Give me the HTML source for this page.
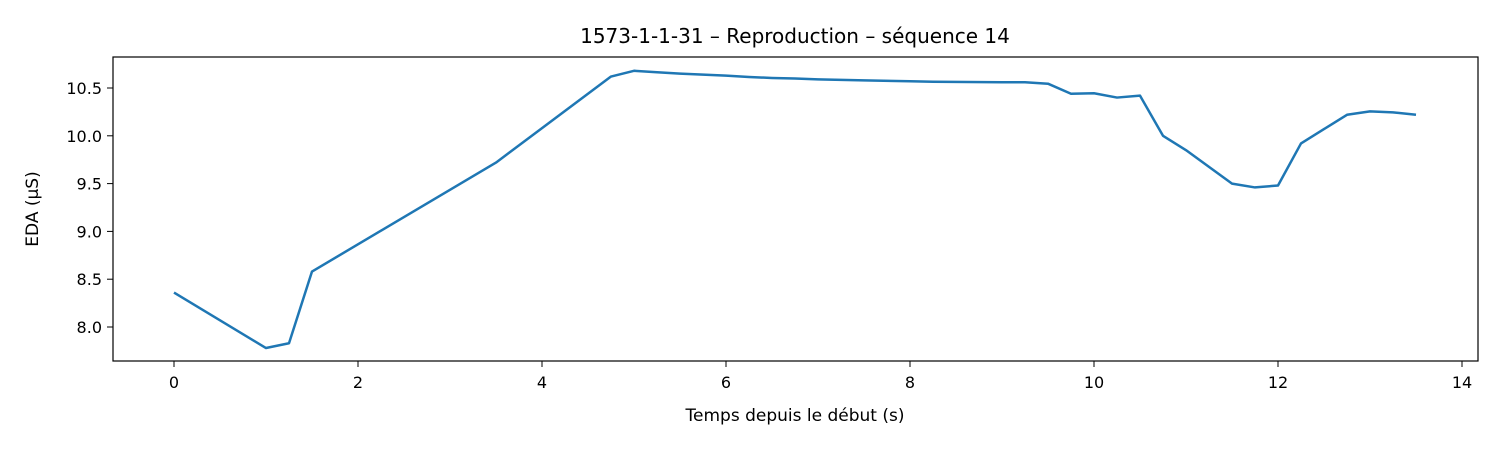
<!DOCTYPE html>
<html><head><meta charset="utf-8"><style>
body{margin:0;background:#fff;font-family:"Liberation Sans","DejaVu Sans",sans-serif;}
svg text{font-family:"DejaVu Sans","Liberation Sans",sans-serif;fill:#000;}
</style></head><body>
<svg id="chart" width="1500" height="450" xmlns="http://www.w3.org/2000/svg">
<rect width="1500" height="450" fill="#fff"/>
<text x="795" y="43" font-size="20" text-anchor="middle">1573-1-1-31 – Reproduction – séquence 14</text>
<g id="ticks"></g>
<path id="line" fill="none" stroke="#1f77b4" stroke-width="2.5" stroke-linejoin="round"/>
<rect x="113" y="57" width="1365" height="304" fill="none" stroke="#000" stroke-width="1.2"/>
<text x="795" y="421" font-size="17" text-anchor="middle">Temps depuis le début (s)</text>
<text transform="translate(38,209) rotate(-90)" font-size="17" text-anchor="middle">EDA (µS)</text>
</svg>
<script>
const times=[0,1,1.25,1.5,3.5,4.75,5,5.25,5.5,5.75,6,6.25,6.5,6.75,7,7.5,8,8.25,9,9.25,9.5,9.75,10,10.25,10.5,10.75,11,11.5,11.75,12,12.25,12.5,12.75,13,13.25,13.5];
const eda=[8.36,7.78,7.83,8.58,9.72,10.62,10.68,10.665,10.65,10.64,10.63,10.615,10.605,10.6,10.59,10.58,10.57,10.565,10.56,10.56,10.545,10.44,10.445,10.4,10.42,10.0,9.85,9.5,9.46,9.48,9.92,10.07,10.22,10.255,10.245,10.22];
const xTicks=[0,2,4,6,8,10,12,14];
const yTicks=[8.0,8.5,9.0,9.5,10.0,10.5];
const X=v=>174+v*92;
const Y=v=>88+(10.5-v)*95.6;
const ns="http://www.w3.org/2000/svg";
const g=document.getElementById('ticks');
xTicks.forEach(t=>{
 const l=document.createElementNS(ns,'line');
 
 
 l.setAttribute('x1',X(t));l.setAttribute('x2',X(t));l.setAttribute('y1',361);l.setAttribute('y2',367);l.setAttribute('stroke','#000');
 g.appendChild(l);
 const tx=document.createElementNS(ns,'text');
 
 
 tx.setAttribute('x',X(t));tx.setAttribute('y',388);tx.setAttribute('font-size','16');tx.setAttribute('text-anchor','middle');
 tx.textContent=t;g.appendChild(tx);
});
yTicks.forEach(t=>{
 const l=document.createElementNS(ns,'line');
 
 
 l.setAttribute('x1',107);l.setAttribute('x2',113);l.setAttribute('y1',Y(t));l.setAttribute('y2',Y(t));l.setAttribute('stroke','#000');
 g.appendChild(l);
 const tx=document.createElementNS(ns,'text');
 
 
 tx.setAttribute('x',102);tx.setAttribute('y',Y(t)+6);tx.setAttribute('font-size','16');tx.setAttribute('text-anchor','end');
 tx.textContent=t.toFixed(1);g.appendChild(tx);
});
document.getElementById('line').setAttribute('d',times.map((t,i)=>(i?'L':'M')+X(t)+','+Y(eda[i])).join(''));
</script>
</body></html>
